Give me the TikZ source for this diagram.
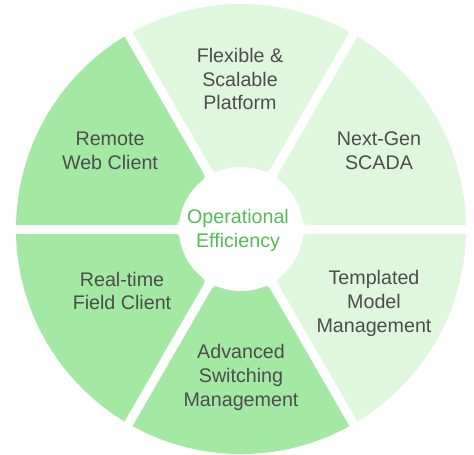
\documentclass[tikz,border=0pt]{standalone}
\usepackage{fontspec}
\setmainfont{Liberation Sans}
\definecolor{lite}{HTML}{DFF7DC}
\definecolor{mid}{HTML}{A3E9A3}
\definecolor{txt}{HTML}{4D4D4D}
\definecolor{core}{HTML}{55BB55}
\begin{document}
\begin{tikzpicture}[lbl/.style={align=center, text=txt, font=\fontsize{11.2}{13.6}\selectfont},
    hub/.style={align=center, text=core, font=\fontsize{11.2}{13.6}\selectfont}]
        \def\ro{4.5}
        \def\ri{1.24}
        \useasboundingbox (-4.82,-4.50) rectangle (4.66,4.58);

        % six pie wedges
        \foreach \a/\col in {0/lite,60/lite,120/mid,180/mid,240/mid,300/lite}{
            \fill[\col] (0,0) -- (\a:\ro) arc[start angle=\a, end angle=\a+60, radius=\ro] -- cycle;
        }
        % white gaps, hub and rounded inner corners
        \foreach \a in {0,60,...,300}{
            \fill[white, rotate=\a] (0,-0.09) rectangle (\ro+0.1,0.09);
        }
        \fill[white] (0,0) circle[radius=\ri];
        \foreach \a in {0,60,...,300}{
            \fill[white] (\a+4.2:\ri) -- ([shift={(\a:0.18)}]\a+4.2:\ri) .. controls (\a+4.2:\ri) .. (\a+12.5:\ri) -- cycle;
            \fill[white] (\a-4.2:\ri) -- ([shift={(\a:0.18)}]\a-4.2:\ri) .. controls (\a-4.2:\ri) .. (\a-12.5:\ri) -- cycle;
        }

        \node[lbl] (flex) at (-0.02,3.0) {Flexible \&\\Scalable\\Platform};
        \node[lbl] (scada) at (2.76,1.56) {Next-Gen\\SCADA};
        \node[lbl] (web) at (-2.62,1.56) {Remote\\Web Client};
        \node[lbl] (field) at (-2.38,-1.24) {Real-time\\Field Client};
        \node[lbl] (tmpl) at (2.66,-1.48) {Templated\\Model\\Management};
        \node[lbl] (switch) at (0,-2.96) {Advanced\\Switching\\Management};
        \node[hub] (eff) at (-0.06,-0.02) {Operational\\Efficiency};
    \end{tikzpicture}
\end{document}
